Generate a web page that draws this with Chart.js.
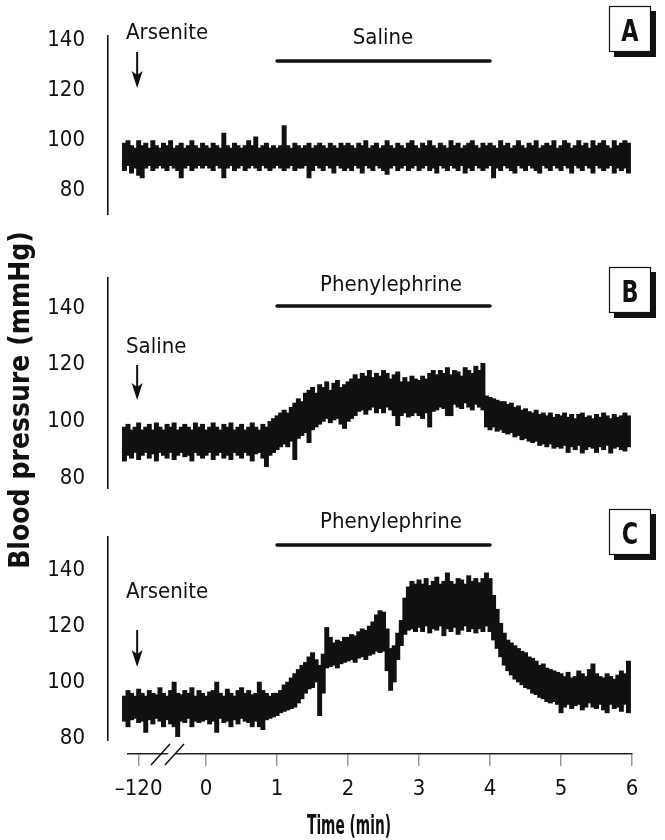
<!DOCTYPE html>
<html>
<head>
<meta charset="utf-8">
<title>Blood pressure traces</title>
<script src="https://cdn.jsdelivr.net/npm/chart.js@4.4.1/dist/chart.umd.min.js"></script>
<style>
body{margin:0;background:#fff;}
#wrap{position:relative;width:665px;height:840px;}
#wrap canvas{position:absolute;left:0;top:0;}
</style>
</head>
<body>
<div id="wrap">
<canvas id="panelA" width="665" height="840"></canvas>
<canvas id="panelB" width="665" height="840"></canvas>
<canvas id="panelC" width="665" height="840"></canvas>
<canvas id="timeAxis" width="665" height="840"></canvas>
</div>
<script>
// sampling grid of the traces (min), one envelope bin every 0.05 min
const sampleStart=-1.15;
const sampleStep=0.05;

const yTicks=[80,100,120,140];
const xTickValues=[-0.95,0,1,2,3,4,5,6];
const xTickLabels=["\u2013120","0","1","2","3","4","5","6"];
const injectionTime=-0.95;   // arrow, at the -120 tick
const drugStart=1, drugEnd=4;

// A: arsenite, then saline  (upper / lower edge of the trace, mmHg)
const highA=[99,100,98,
 97,100,98,99,97,100,98,97,99,98,100,97,98,99,97,98,100,98,97,99,
 98,97,99,98,97,103,98,97,99,98,97,98,100,98,101.5,97,98,99,97,98,
 97,98,106,98,97,99,98,97,98,99,97,98,99,98,97,99,98,97,99,98,
 99,98,97,99,98,100,97,98,99,97,98,100,98,97,99,98,97,99,100,98,
 97,99,98,100,98,97,99,98,97,100,98,99,97,98,99,100,98,97,99,98,
 99,98,97,100,98,99,97,98,100,98,97,99,98,100,97,98,99,98,100,97,
 98,100,99,97,98,100,98,99,97,100,98,99,100,98,97,100,98,99,100,99];
const lowA=[88,90,87,
 89,86,85,89,90,88,89,90,89,88,90,89,88,85,89,90,88,89,90,89,
 90,89,88,90,89,85,89,90,88,89,90,88,89,90,89,88,90,89,88,89,
 90,89,88,89,90,88,89,89,90,85,88,90,89,88,90,89,87,90,89,88,
 89,88,90,89,87,90,89,88,90,89,88,86.5,89,90,88,89,90,88,89,90,
 88,89,90,88,89,87,90,89,88,90,89,88,90,87,89,88,90,89,88,89,
 90,85,89,88,90,89,88,87,90,89,88,90,89,88,87,90,89,88,90,89,
 88,90,89,87,90,89,88,90,89,87,90,89,88,89,90,87,89,88,89,87];

// B: saline, then phenylephrine
const highB=[98,99,97,
 98,99.5,97,98,99,97,99.5,98,97,99,98,99.5,97,98,99,98,97,99.5,98,99,
 97,98,99.5,98,97,99,98,99.5,97,98,99,97,98,99.5,98,97,99,98,100,101,
 102,103,104,103,105,106.5,108,107,110,111,112,110,113,112,114,111,113.5,114.5,112,113,
 114,115,116.5,115,117,116,118,115.5,117,116,118,117,115,116.5,117.5,114,115.5,114,116,115,
 114.5,116,115,117,118,116.5,118,117,119,116.5,118,117.5,116,119,118,117,119.5,118,120.5,109,
 108.5,108,107.5,107,107,106,106.5,105,105.5,104,104.5,103.5,103,104,102.5,103,102,103,101.5,102.5,
 102,103,101.5,102.5,101,102.5,103,101.5,102,101,102.5,101.5,103,102,101,102.5,101.5,102,103,102];
const lowB=[86,88,87,
 89,86.5,88,89,87,88.5,86,89,88,87,89,86.5,88,89,87.5,88,86,89,88,87,
 88,89,86.5,88,89,87,88,86.5,89,88,87,89,88,86,88.5,89,87,84,88,89,
 90,91,92,91,93,86.5,94,95,96,92.5,97,98,99,100,101,99.5,100.5,101,99,97.5,
 100,101,102,103.5,104,102.5,104,105,103,104.5,103,105,104,102,98.5,102,103,101.5,102,103,
 102,101,103,98,103.5,104,105,104.5,102,102,106,105,104.5,106.5,105,104,106,105,104,98,
 97,98,96.5,97,96,95.5,96,94.5,95,93.5,94,93,92.5,93,91.5,92,91,92,90.5,91,
 90.5,91.5,89,91,90,91.5,88.8,90,91,90.5,89,91,90,91.5,88.8,90.5,91,90,89.5,91];

// C: arsenite, then phenylephrine
const highC=[95,97,96,
 95,97.5,96,95,97,96,95.5,98,96,95,97,100,96,95.5,97,96,98,95,97,96,
 95,96.5,97,100,96,95,97.5,96,95,97,98,96,97,95.5,96,100,97,96,95,96,
 96,97,99,100,101.5,103,104.5,106,107,109,110.5,108,106,110,119.5,116,114,115,114.5,116,
 116,117,116.5,118,119,118.5,120,121.5,124,125.5,125,119,112,113,117.5,122,130,134,136,135,
 136.5,135,137,134.5,136,137.5,135,136,139,136,135,137,136.5,135,138,136,137,135.5,137,139,
 137,131,126,121,117.5,115,114,113,112,111,110.5,109,108.5,107.5,106,106.5,105,104.5,104,103.5,
 103,102,103.5,101.5,102,104,103,102,104.5,106.5,103,102,101.5,103,102,101,102.5,104,103,107.5];
const lowC=[86,84,86.5,
 87,85.5,86,82,86.5,85,87,86,84,86.5,85,84,80.5,86,85.5,87,84,86,85.5,86,
 86.5,85,86,82,87,85.5,86,84,86.5,85,87,86,85.5,84,86,84,83,86.5,87,87.5,
 88,89,89.5,90,90.5,91,92.5,94,96,97.5,98,100,88,96,105,105.5,106,105,106.5,107,
 107.5,108,107,108.5,109,108,109.5,110,111,110.5,111,104,97,100,108,113,117,118.5,119,118,
 119.5,118,120,117.5,119,118.5,120,116.5,119,118,119.5,117,118.5,120,118,119,117.5,119,118,120,
 118,115,112,109,106,104,102.5,101,100,99,98,97.5,96,95.5,94.5,94,93,92.5,93,92,
 89,91,92,90.5,91.5,92,90,91,92.5,91,90.5,92,90,89,92,90.5,91,89.5,92,89];

const FONT="'DejaVu Sans Condensed','DejaVu Sans',sans-serif";
const INK="#111";

function envelope(lows,highs){
  return highs.map((h,i)=>({x:+(sampleStart+i*sampleStep).toFixed(2),y:[lows[i],h]}));
}

// drug bar, labels, injection arrow and letter box of one panel
const panelNotes={
  id:"panelNotes",
  afterDraw(chart,args,o){
    const ctx=chart.ctx;
    const xs=chart.scales.x;
    ctx.save();
    ctx.fillStyle=INK;
    ctx.strokeStyle=INK;

    const x1=xs.getPixelForValue(drugStart), x2=xs.getPixelForValue(drugEnd);
    ctx.lineWidth=3.5;
    ctx.lineCap="round";
    ctx.beginPath();ctx.moveTo(x1,o.barY);ctx.lineTo(x2,o.barY);ctx.stroke();

    ctx.font="22px "+FONT;
    ctx.textBaseline="alphabetic";
    ctx.textAlign="center";
    ctx.fillText(o.drug,o.drugX,o.drugBase);
    ctx.textAlign="left";
    ctx.fillText(o.marker,126,o.markerBase);

    const ax=xs.getPixelForValue(injectionTime)-1.5;
    ctx.lineWidth=2;
    ctx.lineCap="butt";
    ctx.beginPath();ctx.moveTo(ax,o.arrowTop);ctx.lineTo(ax,o.arrowBottom-10);ctx.stroke();
    ctx.beginPath();
    ctx.moveTo(ax,o.arrowBottom);
    ctx.lineTo(ax-5.5,o.arrowBottom-17);
    ctx.lineTo(ax,o.arrowBottom-13);
    ctx.lineTo(ax+5.5,o.arrowBottom-17);
    ctx.closePath();ctx.fill();

    const bx=609, bw=42, bh=46, by=o.boxTop;
    ctx.fillRect(bx+5,by+5,bw,bh);
    ctx.fillStyle="#fff";
    ctx.fillRect(bx,by,bw,bh);
    ctx.lineWidth=1.2;
    ctx.strokeRect(bx+0.5,by+0.5,bw-1,bh-1);
    ctx.fillStyle=INK;
    ctx.font="bold 31px "+FONT;
    ctx.textAlign="center";
    ctx.save();
    ctx.translate(bx+bw/2,by+bh/2+11.5);
    ctx.scale(0.8,1);
    ctx.fillText(o.letter,0,0);
    ctx.restore();
    ctx.restore();
  }
};

function makePanel(id,lows,highs,yMin,yMax,top,bottom,notes){
  return new Chart(document.getElementById(id),{
    type:"bar",
    data:{datasets:[{
      data:envelope(lows,highs),
      backgroundColor:INK,
      borderWidth:0,
      barThickness:4.3,
      grouped:false
    }]},
    options:{
      responsive:false,
      animation:false,
      events:[],
      layout:{padding:{left:0,right:33,top:top,bottom:840-bottom}},
      plugins:{legend:{display:false},tooltip:{enabled:false},panelNotes:notes},
      scales:{
        x:{type:"linear",display:false,offset:false,min:-1.3817,max:6,grid:{offset:false}},
        y:{type:"linear",min:yMin,max:yMax,
          afterBuildTicks:s=>{s.ticks=yTicks.map(v=>({value:v}));},
          afterFit:s=>{s.width=108;},
          grid:{display:false,drawTicks:false},
          border:{display:true,color:INK,width:1.6},
          ticks:{padding:23,color:INK,font:{family:FONT,size:22}}
        }
      }
    },
    plugins:[panelNotes]
  });
}

makePanel("panelA",lowA,highA,70.2,141.8,18,215,
  {drug:"Saline",drugX:383,drugBase:44,barY:61,marker:"Arsenite",markerBase:39,arrowTop:52,arrowBottom:88,letter:"A",boxTop:6});
makePanel("panelB",lowB,highB,76.5,150.6,278,488,
  {drug:"Phenylephrine",drugX:391,drugBase:291,barY:306,marker:"Saline",markerBase:353,arrowTop:365,arrowBottom:400,letter:"B",boxTop:267});
makePanel("panelC",lowC,highC,79.3,151.8,537,740,
  {drug:"Phenylephrine",drugX:391,drugBase:528,barY:545,marker:"Arsenite",markerBase:598,arrowTop:630,arrowBottom:667,letter:"C",boxTop:509});

// axis break, axis titles
const axisExtras={
  id:"axisExtras",
  afterDraw(chart){
    const ctx=chart.ctx;
    ctx.save();
    ctx.fillStyle="#fff";
    ctx.beginPath();
    ctx.moveTo(158,765);ctx.lineTo(177,744);ctx.lineTo(184,744);ctx.lineTo(165,765);
    ctx.closePath();ctx.fill();
    ctx.strokeStyle=INK;
    ctx.lineWidth=1.5;
    ctx.beginPath();
    ctx.moveTo(151,765);ctx.lineTo(170,744);
    ctx.moveTo(165,765);ctx.lineTo(184,744);
    ctx.stroke();

    ctx.fillStyle=INK;
    ctx.textAlign="center";
    ctx.textBaseline="alphabetic";
    ctx.font="bold 26px "+FONT;
    const w=ctx.measureText("Time (min)").width;
    ctx.save();
    ctx.translate(349,834);
    ctx.scale(84/w,1);
    ctx.fillText("Time (min)",0,0);
    ctx.restore();

    ctx.font="bold 28px "+FONT;
    ctx.translate(29,400);
    ctx.rotate(-Math.PI/2);
    ctx.fillText("Blood pressure (mmHg)",0,0);
    ctx.restore();
  }
};

new Chart(document.getElementById("timeAxis"),{
  type:"scatter",
  data:{datasets:[]},
  options:{
    responsive:false,
    animation:false,
    events:[],
    layout:{padding:{left:128,right:33,top:700,bottom:0}},
    plugins:{legend:{display:false},tooltip:{enabled:false}},
    scales:{
      x:{type:"linear",position:"bottom",min:-1.1,max:6,
        afterBuildTicks:s=>{s.ticks=xTickValues.map(v=>({value:v}));},
        afterFit:s=>{s.height=86;},
        grid:{display:true,drawOnChartArea:false,drawTicks:true,tickLength:12,color:"#9a9a9a",lineWidth:1.5},
        border:{display:true,color:"#222",width:1.5},
        ticks:{autoSkip:false,maxRotation:0,padding:10,color:INK,font:{family:FONT,size:22},
          callback:(v,i)=>xTickLabels[i]}
      },
      y:{display:false}
    }
  },
  plugins:[axisExtras]
});
</script>
</body>
</html>
